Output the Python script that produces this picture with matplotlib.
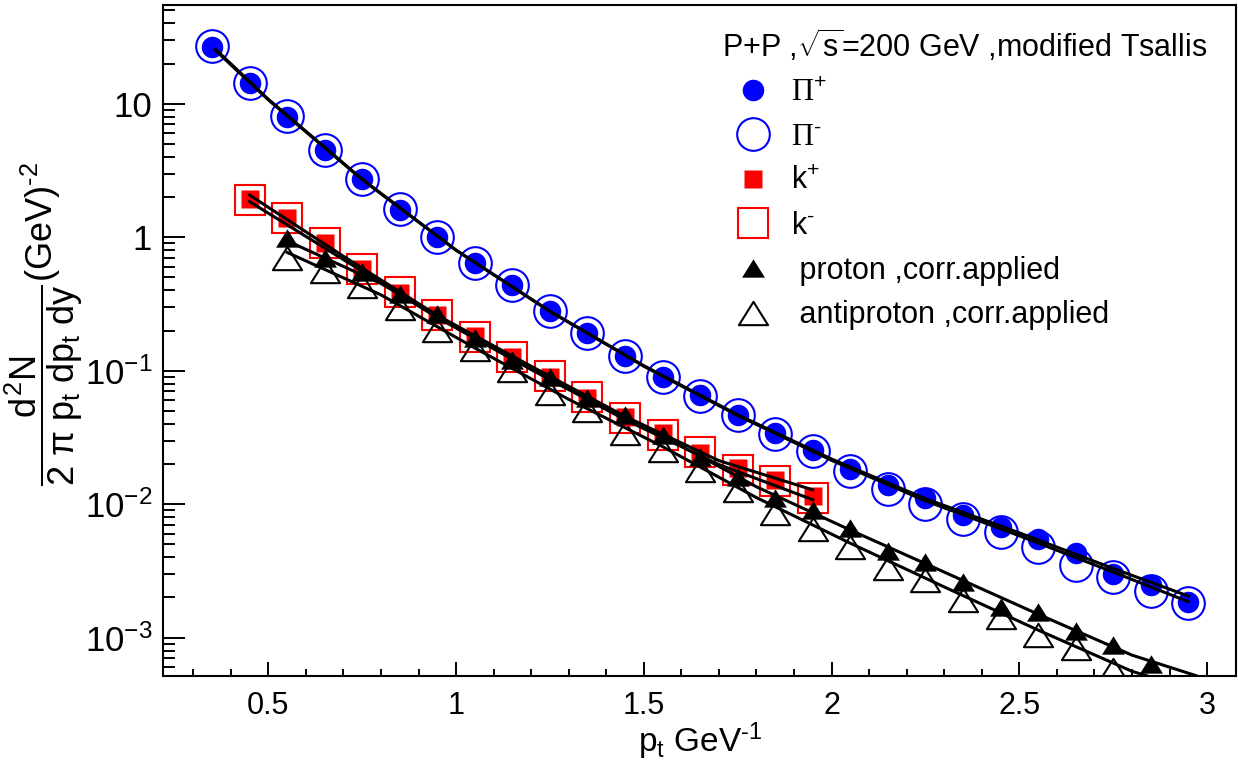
import matplotlib
matplotlib.use('Agg')
import matplotlib.pyplot as plt
from matplotlib.path import Path
from matplotlib.ticker import MultipleLocator, LogLocator, NullFormatter

plt.rcParams['font.family'] = ['Liberation Sans', 'DejaVu Sans']
plt.rcParams['mathtext.fontset'] = 'custom'
plt.rcParams['mathtext.rm'] = 'Liberation Sans'
plt.rcParams['mathtext.it'] = 'Liberation Sans'
plt.rcParams['mathtext.bf'] = 'Liberation Sans:bold'

# ---- data ----
pt_pi = [0.35, 0.45, 0.55, 0.65, 0.75, 0.85, 0.95, 1.05, 1.15, 1.25, 1.35, 1.45, 1.55, 1.65,
         1.75, 1.85, 1.95, 2.05, 2.15, 2.25, 2.35, 2.45, 2.55, 2.65, 2.75, 2.85, 2.95]
pi_plus = [26.7, 14.2, 8.0, 4.5, 2.72, 1.61, 1.0, 0.64, 0.438, 0.279, 0.191, 0.129, 0.0893, 0.0657,
           0.0466, 0.0344, 0.0255, 0.0184, 0.0139, 0.0111, 0.0083, 0.0068, 0.0055, 0.0043,
           0.0030, 0.00248, 0.00186]
pi_minus = [27.0, 14.4, 8.1, 4.5, 2.74, 1.62, 1.01, 0.645, 0.44, 0.281, 0.19, 0.128, 0.089, 0.065,
            0.0462, 0.0338, 0.0250, 0.0178, 0.0131, 0.0101, 0.0077, 0.0062, 0.0048, 0.0035,
            0.00286, 0.00225, 0.00181]

pt_k = [0.45, 0.55, 0.65, 0.75, 0.85, 0.95, 1.05, 1.15, 1.25, 1.35, 1.45, 1.55, 1.65, 1.75, 1.85, 1.95]
k_plus = [1.92, 1.39, 0.91, 0.575, 0.384, 0.261, 0.182, 0.127, 0.090, 0.062, 0.0452, 0.034,
          0.0241, 0.0186, 0.0152, 0.0115]
k_minus = [1.90, 1.40, 0.90, 0.58, 0.39, 0.262, 0.18, 0.126, 0.092, 0.063, 0.0445, 0.033,
           0.0245, 0.0180, 0.0148, 0.0112]

pt_p = [0.55, 0.65, 0.75, 0.85, 0.95, 1.05, 1.15, 1.25, 1.35, 1.45, 1.55, 1.65, 1.75, 1.85,
        1.95, 2.05, 2.15, 2.25, 2.35, 2.45, 2.55, 2.65, 2.75, 2.85]
proton = [0.98, 0.695, 0.552, 0.376, 0.266, 0.175, 0.120, 0.090, 0.062, 0.0466, 0.033, 0.0227,
          0.0161, 0.0111, 0.00906, 0.0066, 0.00449, 0.00371, 0.0026, 0.0017, 0.00157, 0.00112,
          0.00088, 0.00064]
pt_pbar = pt_p[:-1]
antiproton = [0.70, 0.558, 0.434, 0.296, 0.201, 0.146, 0.101, 0.068, 0.0508, 0.034, 0.0255, 0.018,
              0.0128, 0.00855, 0.0065, 0.0048, 0.00331, 0.0027, 0.00191, 0.00144, 0.00104,
              0.00083, 0.00057]

# fit curves (modified Tsallis)
pi_fit_x = [0.36, 0.5, 0.75, 1.0, 1.25, 1.5, 1.75, 2.0, 2.25, 2.5, 2.75, 2.95]
pi_plus_fit = [25.5, 10.8, 2.72, 0.80, 0.279, 0.109, 0.0468, 0.0218, 0.0110, 0.0061, 0.0033, 0.00205]
pi_minus_fit = [25.0, 10.7, 2.70, 0.80, 0.278, 0.108, 0.0462, 0.0213, 0.0106, 0.0058, 0.0031, 0.00186]

k_fit_x = [0.45, 0.7, 0.95, 1.2, 1.45, 1.7, 1.95]
k_plus_fit = [2.07, 0.72, 0.26, 0.108, 0.0455, 0.0212, 0.0128]
k_minus_fit = [1.85, 0.68, 0.25, 0.102, 0.043, 0.0198, 0.0108]

p_fit_x = [0.55, 0.8, 1.05, 1.3, 1.55, 1.8, 2.05, 2.3, 2.55, 2.8, 2.97]
proton_fit = [0.94, 0.45, 0.175, 0.074, 0.0325, 0.0135, 0.0064, 0.0031, 0.0015, 0.00074, 0.00052]
antiproton_fit = [0.77, 0.37, 0.148, 0.061, 0.027, 0.0112, 0.0051, 0.0024, 0.00114, 0.00056, 0.00040]

legend_title = r'P+P ,$\sqrt{s}$=200 GeV ,modified Tsallis'
legend_labels = [r'Π$^{+}$', r'Π$^{\text{-}}$', r'k$^{+}$', r'k$^{\text{-}}$',
                 ' proton ,corr.applied', ' antiproton ,corr.applied']
xtick_vals = [0.5, 1, 1.5, 2, 2.5, 3]
xtick_labels = ['0.5', '1', '1.5', '2', '2.5', '3']
ytick_vals = [1e-3, 1e-2, 1e-1, 1, 10]
ytick_labels = [r'$10^{-3}$', r'$10^{-2}$', r'$10^{-1}$', '1', '10']

# ---- figure ----
fig = plt.figure(figsize=(12.38, 7.65), dpi=100)
ax = fig.add_axes([163.3 / 1238, 1 - 675.7 / 765, (1236 - 163.3) / 1238, (675.7 - 4.7) / 765])

blue = '#0000ff'
red = '#ff0000'
# ROOT-like triangle: a bit wider than tall, closed outline
tri = Path([(-1, -0.8), (1, -0.8), (0, 0.8), (-1, -0.8)],
           [Path.MOVETO, Path.LINETO, Path.LINETO, Path.CLOSEPOLY])

h1, = ax.plot(pt_pi, pi_plus, 'o', color=blue, ms=15.5, mec='none', zorder=3)
h2, = ax.plot(pt_pi, pi_minus, 'o', mfc='none', mec=blue, mew=1.5, ms=23.5, zorder=2)
h3, = ax.plot(pt_k, k_plus, 's', color=red, ms=13.5, mec='none', zorder=3)
h4, = ax.plot(pt_k, k_minus, 's', mfc='none', mec=red, mew=1.5, ms=21.5, zorder=2)
h5, = ax.plot(pt_p, proton, ls='none', marker=tri, color='black', ms=16.5, mec='none', zorder=3)
h6, = ax.plot(pt_pbar, antiproton, ls='none', marker=tri, mfc='none', mec='black', mew=1.5, ms=21,
              zorder=2)

for fx, fy in [(pi_fit_x, pi_plus_fit), (pi_fit_x, pi_minus_fit),
               (k_fit_x, k_plus_fit), (k_fit_x, k_minus_fit),
               (p_fit_x, proton_fit), (p_fit_x, antiproton_fit)]:
    ax.plot(fx, fy, color='black', lw=2.2, zorder=5)

ax.set_yscale('log')
ax.set_xlim(0.2204, 3.077)
ax.set_ylim(5.19e-4, 55.2)

ax.set_xticks(xtick_vals, labels=xtick_labels)
ax.xaxis.set_minor_locator(MultipleLocator(0.1))
ax.set_yticks(ytick_vals, labels=ytick_labels)
ax.yaxis.set_minor_locator(LogLocator(base=10, subs=range(2, 10), numticks=20))
ax.yaxis.set_minor_formatter(NullFormatter())

ax.tick_params(axis='both', which='both', direction='in', top=False, right=False, width=1.4)
ax.tick_params(axis='y', which='major', length=15.8, pad=8, labelsize=25)
ax.tick_params(axis='y', which='minor', length=8.4)
ax.tick_params(axis='x', which='major', length=10, pad=11, labelsize=22)
ax.tick_params(axis='x', which='minor', length=5.3)
for s in ax.spines.values():
    s.set_linewidth(1.5)

ax.set_xlabel(r'p$_{t}$ GeV$^{\text{-1}}$', fontsize=24, labelpad=0)
ax.set_ylabel(r'$\dfrac{d^{2}N}{2\ \pi\ p_{t}\ dp_{t}\ dy}$(GeV)$^{\text{-2}}$', fontsize=26)
ax.yaxis.set_label_coords(-0.073, 0.524)

leg = ax.legend([h1, h2, h3, h4, h5, h6], legend_labels, loc='upper left',
                bbox_to_anchor=(0.521, 0.966), frameon=False, fontsize=22,
                title=legend_title, title_fontsize=22, alignment='left',
                handlelength=2.0, handletextpad=0.25, labelspacing=0.48,
                borderpad=0, borderaxespad=0, numpoints=1)
for t in leg.get_texts()[:2]:
    t.set_fontfamily(['Liberation Serif', 'DejaVu Serif'])

fig.savefig('out.png', dpi=100)
